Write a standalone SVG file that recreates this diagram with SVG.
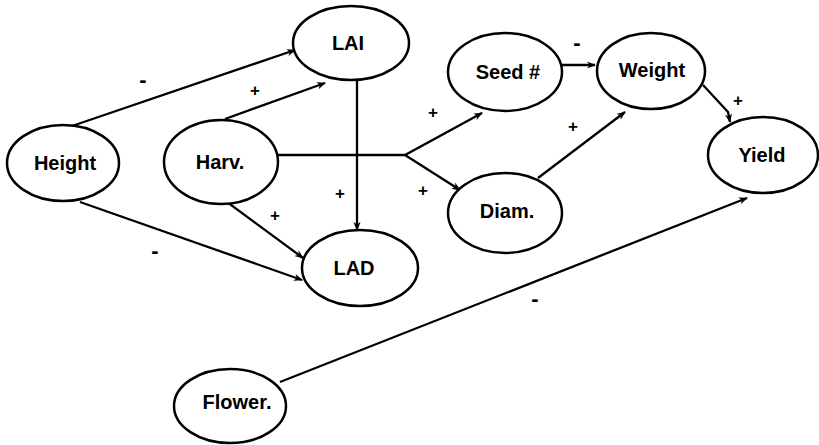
<svg xmlns="http://www.w3.org/2000/svg" width="819" height="445" viewBox="0 0 819 445">
<style>
  .node ellipse { fill: #ffffff; stroke: #000000; stroke-width: 2.5; }
  .node text { font-family: "Liberation Sans", Arial, sans-serif; font-weight: bold; font-size: 20px; fill: #000; text-anchor: middle; dominant-baseline: central; }
  .edges path, .edges line { fill: none; stroke: #000; stroke-width: 2.3; }
  .lbl { font-family: "Liberation Sans", Arial, sans-serif; font-weight: bold; font-size: 17px; fill: #000; text-anchor: middle; dominant-baseline: central; }
  .neg { font-size: 22px; }
</style>
<defs>
  <marker id="arr" viewBox="0 0 10 10" refX="9" refY="5" markerWidth="9" markerHeight="9" markerUnits="userSpaceOnUse" orient="auto">
    <path d="M0,1 L10,5 L0,9 L3,5 z" fill="#000"/>
  </marker>
</defs>
<rect width="819" height="445" fill="#ffffff"/>
<g class="edges" id="connectors">
  <line x1="72" y1="126" x2="295" y2="50" marker-end="url(#arr)"/>
  <line x1="225" y1="119" x2="325" y2="83" marker-end="url(#arr)"/>
  <line x1="357" y1="81" x2="357" y2="230" marker-end="url(#arr)"/>
  <line x1="223" y1="199" x2="303" y2="258" marker-end="url(#arr)"/>
  <line x1="80" y1="202" x2="302" y2="280" marker-end="url(#arr)"/>
  <path d="M278,155 L405,155 L482,113" marker-end="url(#arr)"/>
  <line x1="405" y1="155" x2="460" y2="190" marker-end="url(#arr)"/>
  <line x1="562" y1="65" x2="595" y2="65" marker-end="url(#arr)"/>
  <line x1="538" y1="178" x2="625" y2="112" marker-end="url(#arr)"/>
  <path d="M703,85 L728,112 L730,122" marker-end="url(#arr)"/>
  <line x1="280" y1="382" x2="747" y2="198" marker-end="url(#arr)"/>
  <text class="lbl neg" x="143" y="79">-</text>
  <text class="lbl" x="255" y="90">+</text>
  <text class="lbl" x="340" y="193">+</text>
  <text class="lbl" x="275" y="215">+</text>
  <text class="lbl neg" x="155" y="250">-</text>
  <text class="lbl" x="433" y="112">+</text>
  <text class="lbl" x="423" y="190">+</text>
  <text class="lbl neg" x="577" y="42">-</text>
  <text class="lbl" x="573" y="126">+</text>
  <text class="lbl" x="738" y="100">+</text>
  <text class="lbl neg" x="535" y="298">-</text>
</g>
<g class="node" id="height"><ellipse cx="63" cy="163" rx="56" ry="38"/><text x="65" y="163">Height</text></g>
<g class="node" id="harv"><ellipse cx="221" cy="162" rx="57" ry="42"/><text x="220" y="162">Harv.</text></g>
<g class="node" id="lai"><ellipse cx="351" cy="43" rx="58" ry="37"/><text x="348" y="43">LAI</text></g>
<g class="node" id="lad"><ellipse cx="360" cy="268" rx="58" ry="38"/><text x="354" y="268">LAD</text></g>
<g class="node" id="seed"><ellipse cx="505" cy="72" rx="57" ry="39"/><text x="508" y="72">Seed #</text></g>
<g class="node" id="weight"><ellipse cx="651" cy="71" rx="54" ry="38"/><text x="652" y="70">Weight</text></g>
<g class="node" id="diam"><ellipse cx="505" cy="213" rx="57" ry="40"/><text x="507" y="211">Diam.</text></g>
<g class="node" id="yield"><ellipse cx="763" cy="155" rx="55" ry="38"/><text x="762" y="155">Yield</text></g>
<g class="node" id="flower"><ellipse cx="230" cy="406" rx="56" ry="37"/><text x="237" y="402">Flower.</text></g>
</svg>
